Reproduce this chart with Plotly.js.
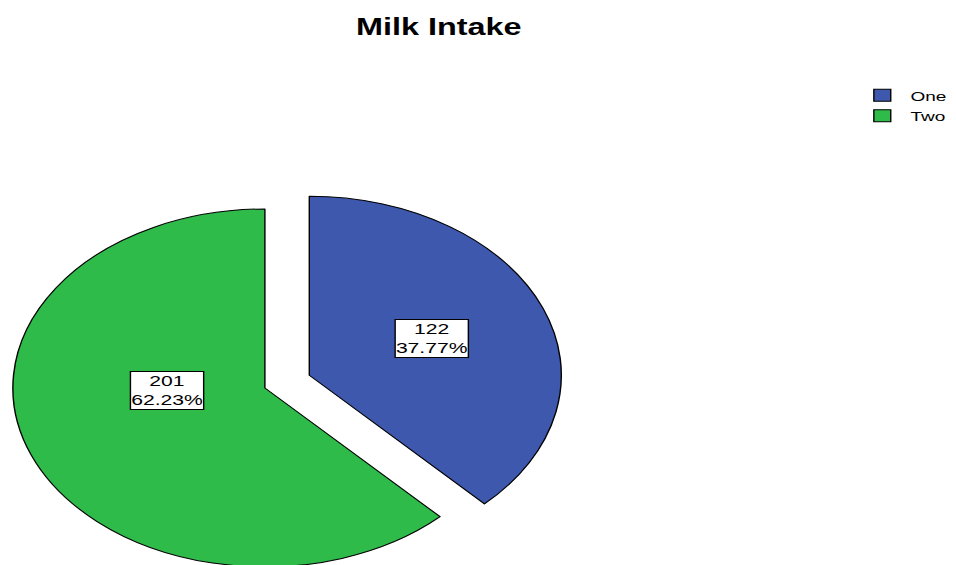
<!DOCTYPE html>
<html>
<head>
<meta charset="utf-8">
<script src="https://cdn.plot.ly/plotly-3.0.1.min.js"></script>
<style>
  html, body { margin:0; padding:0; overflow:hidden; width:956px; height:565px; background:#ffffff; }
  /* the reference picture is horizontally stretched; reproduce that with a CSS stretch */
  #wrap { position:absolute; left:-35px; top:0; width:704px; height:601px;
          transform:scaleX(1.408); transform-origin:0 0; }
</style>
</head>
<body>
<div id="wrap"></div>
<script>
// ---- data ----
const categories = ["One", "Two"];
const counts = [122, 201];
const sliceColors = ["#3E58AE", "#2EBB49"];
const pulls = [0.19, 0];
const chartTitle = "Milk Intake";

const total = counts.reduce((a, b) => a + b, 0);
const pctText = counts.map(v => (v / total * 100).toFixed(2) + "%");

// label box positions (paper coords of the un-stretched layout)
const labelPos = [[0.471, 0.436], [0.2043, 0.351]];

const trace = {
  type: "pie",
  labels: categories,
  values: counts,
  sort: false,
  direction: "clockwise",
  rotation: 0,
  pull: pulls,
  textinfo: "none",
  hoverinfo: "none",
  marker: { colors: sliceColors, line: { color: "#000000", width: 1 } },
  domain: { x: [0, 426 / 704], y: [0, 426 / 601] },
  showlegend: true
};

const annotations = counts.map((v, i) => ({
  xref: "paper", yref: "paper",
  x: labelPos[i][0], y: labelPos[i][1],
  xanchor: "center", yanchor: "middle",
  text: v + "<br>" + pctText[i],
  showarrow: false,
  bgcolor: "#ffffff",
  bordercolor: "#000000",
  borderwidth: 1,
  borderpad: 0,
  font: { family: "Liberation Sans, Arial, sans-serif", size: 15, color: "#000000" }
}));

const layout = {
  width: 704,
  height: 601,
  margin: { l: 0, r: 0, t: 0, b: 0, pad: 0 },
  paper_bgcolor: "#ffffff",
  plot_bgcolor: "#ffffff",
  title: {
    text: "<b>" + chartTitle + "</b>",
    x: 0.478, xanchor: "center", xref: "paper",
    y: 1 - 27 / 601, yanchor: "middle", yref: "container",
    font: { family: "Liberation Sans, Arial, sans-serif", size: 23, color: "#000000" }
  },
  legend: {
    x: 0.897, xanchor: "left",
    y: 1 - 80 / 601, yanchor: "top",
    font: { family: "Liberation Sans, Arial, sans-serif", size: 13.5, color: "#000000" },
    bgcolor: "rgba(0,0,0,0)",
    borderwidth: 0,
    tracegroupgap: 0
  },
  annotations: annotations
};

Plotly.newPlot("wrap", [trace], layout, { staticPlot: true, displayModeBar: false });
</script>
</body>
</html>
